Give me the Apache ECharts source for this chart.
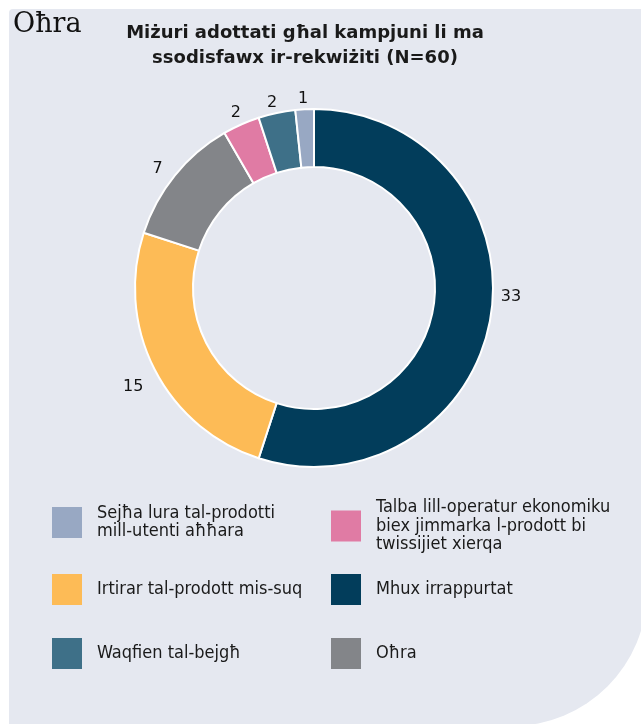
<!DOCTYPE html>
<html>
<head>
<meta charset="utf-8">
<style>html,body{margin:0;padding:0;background:#fff;}#chart{width:641px;height:724px;}</style>
<script src="https://cdn.jsdelivr.net/npm/echarts@6/dist/echarts.min.js"></script>
</head>
<body>
<div id="chart"></div>
<script>
// Data
const categories = [
  'Mhux irrappurtat',
  'Irtirar tal-prodott mis-suq',
  'Oħra',
  'Talba lill-operatur ekonomiku biex jimmarka l-prodott bi twissijiet xierqa',
  'Waqfien tal-bejgħ',
  'Sejħa lura tal-prodotti mill-utenti aħħara'
];
const values = [33, 15, 7, 2, 2, 1];
const colors = ['#023d5b', '#fdbb56', '#838589', '#e07ba4', '#3e7088', '#98a8c3'];
const legendOrder = [
  'Sejħa lura tal-prodotti mill-utenti aħħara',
  'Talba lill-operatur ekonomiku biex jimmarka l-prodott bi twissijiet xierqa',
  'Irtirar tal-prodott mis-suq',
  'Mhux irrappurtat',
  'Waqfien tal-bejgħ',
  'Oħra'
];
const legendText = {
  'Sejħa lura tal-prodotti mill-utenti aħħara': 'Sejħa lura tal-prodotti\nmill-utenti aħħara',
  'Talba lill-operatur ekonomiku biex jimmarka l-prodott bi twissijiet xierqa': 'Talba lill-operatur ekonomiku\nbiex jimmarka l-prodott bi\ntwissijiet xierqa',
  'Irtirar tal-prodott mis-suq': 'Irtirar tal-prodott mis-suq',
  'Mhux irrappurtat': 'Mhux irrappurtat',
  'Waqfien tal-bejgħ': 'Waqfien tal-bejgħ',
  'Oħra': 'Oħra'
};
const titleText = 'Miżuri adottati għal kampjuni li ma\nssodisfawx ir-rekwiżiti (N=60)';
const cornerText = 'Oħra';

// Styling / layout (not data)
const legendCols = [52, 331];
const legendRowCenters = [[522.5, 526], [589.5, 589.5], [653.5, 653.5]];
const legendLineHeight = 18.3;
// small per-slice nudges of the value labels (px), same order as categories
const labelNudge = [[-2, -20], [0, 14], [-2, -1], [7, -4], [6, -2], [8, -2]];

const chart = echarts.init(document.getElementById('chart'), null, {renderer: 'canvas'});

const legends = legendOrder.map((name, i) => {
  const col = i % 2, row = Math.floor(i / 2);
  const lines = legendText[name].split('\n').length;
  const h = Math.max(31, lines * legendLineHeight);
  return {
    data: [name],
    left: legendCols[col],
    top: legendRowCenters[row][col] - h / 2,
    orient: 'vertical',
    itemWidth: 30,
    itemHeight: 31,
    icon: 'rect',
    selectedMode: false,
    padding: 0,
    formatter: n => legendText[n],
    textStyle: {
      fontFamily: '"DejaVu Sans Condensed", "DejaVu Sans"',
      fontSize: 18,
      lineHeight: legendLineHeight,
      color: '#1a1a1a',
      padding: [0, 0, 0, 10]
    },
    itemStyle: {borderWidth: 0}
  };
});

chart.setOption({
  animation: false,
  color: colors,
  graphic: [
    {
      type: 'rect',
      z: -10,
      shape: {x: 9, y: 9, width: 638, height: 717, r: [4, 0, 135, 0]},
      style: {fill: '#e5e8f0'}
    },
    {
      type: 'text',
      left: 13, top: 11,
      style: {text: cornerText, font: '27px "DejaVu Serif"', fill: '#111'}
    },
    {
      type: 'text',
      x: 305, y: 21,
      style: {
        text: titleText,
        font: 'bold 18px "DejaVu Sans"',
        lineHeight: 25,
        align: 'center',
        verticalAlign: 'top',
        fill: '#1a1a1a'
      }
    }
  ],
  legend: legends,
  series: [{
    type: 'pie',
    center: [314, 288],
    radius: [121, 179],
    startAngle: 90,
    clockwise: true,
    avoidLabelOverlap: false,
    itemStyle: {borderColor: '#ffffff', borderWidth: 2},
    label: {
      show: true,
      position: 'outside',
      formatter: '{c}',
      fontFamily: '"DejaVu Sans"',
      fontSize: 16,
      color: '#111',
      distanceToLabelLine: 4
    },
    labelLine: {show: false, length: 8, length2: 0},
    emphasis: {disabled: true},
    data: categories.map((c, i) => ({
      name: c,
      value: values[i],
      label: {offset: labelNudge[i]}
    }))
  }]
});
</script>
</body>
</html>
